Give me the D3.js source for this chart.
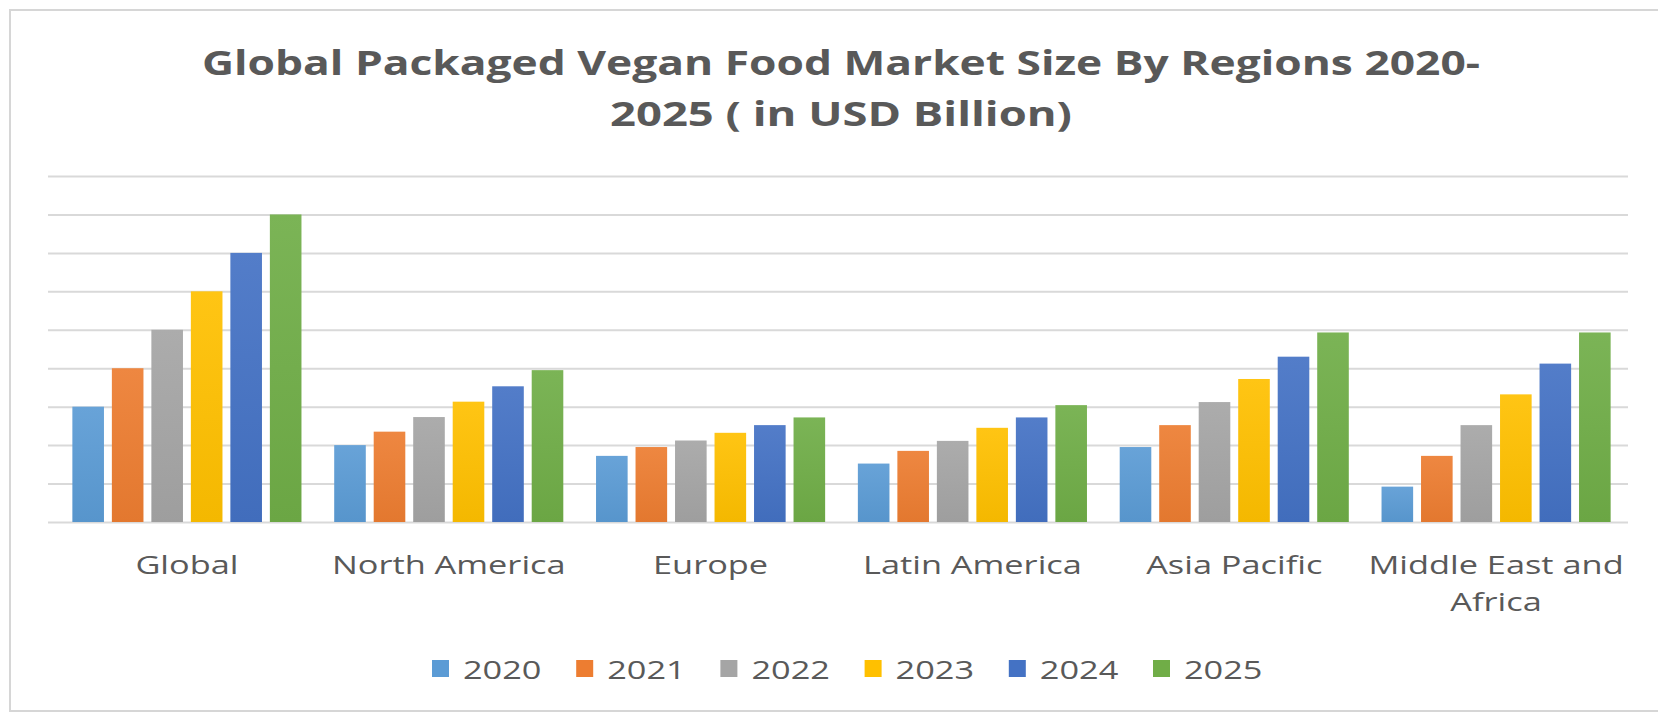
<!DOCTYPE html>
<html>
<head>
<meta charset="utf-8">
<script src="https://cdn.jsdelivr.net/npm/d3@7"></script>
<style>
  html, body { margin: 0; padding: 0; background: #ffffff; }
  svg { display: block; }
</style>
</head>
<body>
<svg id="chart" width="1658" height="715"></svg>
<script>
// Regions along the x axis (second line of a label after "\n")
const regions = ["Global", "North America", "Europe", "Latin America", "Asia Pacific", "Middle East and\nAfrica"];
// Years shown as side-by-side bars in each region
const years = ["2020", "2021", "2022", "2023", "2024", "2025"];
// Market size per region, one array per year (USD Billion)
const v2020 = [3.0, 2.0, 1.72, 1.52, 1.95, 0.92];
const v2021 = [4.0, 2.35, 1.95, 1.85, 2.52, 1.72];
const v2022 = [5.0, 2.73, 2.12, 2.11, 3.12, 2.52];
const v2023 = [6.0, 3.13, 2.32, 2.45, 3.72, 3.32];
const v2024 = [7.0, 3.53, 2.52, 2.72, 4.3, 4.12];
const v2025 = [8.0, 3.95, 2.72, 3.04, 4.93, 4.93];
const seriesValues = [v2020, v2021, v2022, v2023, v2024, v2025];
// Gridline values of the hidden value axis
const gridTicks = [0, 1, 2, 3, 4, 5, 6, 7, 8, 9];
const colors = ["#5B9BD5", "#ED7D31", "#A5A5A5", "#FFC000", "#4472C4", "#70AD47"];

const titleLines = ["Global Packaged Vegan Food Market Size By Regions 2020-", "2025 ( in USD Billion)"];

const svg = d3.select("#chart");
const W = 1658, H = 715;
const textColor = "#595959";
const font = "'Open Sans', 'DejaVu Sans', sans-serif";
const stretch = 1.32; // horizontal widening of axis and legend text

// outer frame
svg.append("rect")
  .attr("x", 10).attr("y", 10)
  .attr("width", W + 20).attr("height", 701)
  .attr("fill", "#ffffff")
  .attr("stroke", "#d6d6d6")
  .attr("stroke-width", 2);

// title
const titleX = 841;
const titleBase = [75, 126];
const titleWidths = [1278, 462];
titleLines.forEach((t, i) => {
  svg.append("text")
    .attr("x", titleX).attr("y", titleBase[i])
    .attr("text-anchor", "middle")
    .attr("font-family", font)
    .attr("font-weight", 700)
    .attr("font-size", 34)
    .attr("fill", textColor)
    .attr("textLength", titleWidths[i])
    .attr("lengthAdjust", "spacingAndGlyphs")
    .text(t);
});

// plot area
const plot = { left: 56, right: 1627, top: 176, bottom: 522 };
const gridLeft = 48, gridRight = 1628;

const y = d3.scaleLinear().domain([0, 9]).range([plot.bottom, plot.top]);
const x0 = d3.scaleBand().domain(regions).range([plot.left, plot.right]).paddingInner(0.125).paddingOuter(0.0625);
const x1 = d3.scaleBand().domain(years).range([0, x0.bandwidth()]).paddingInner(0.2).paddingOuter(0);

// gridlines from a label-less value axis
const yAxis = d3.axisLeft(y).tickValues(gridTicks).tickFormat("").tickSize(-(gridRight - gridLeft)).tickSizeOuter(0);
const gAxis = svg.append("g").attr("transform", `translate(${gridLeft},0)`).call(yAxis);
gAxis.select(".domain").remove();
gAxis.selectAll(".tick line").attr("stroke", "#d9d9d9").attr("stroke-width", 2);

// vertical gradients for bar fills
const defs = svg.append("defs");
colors.forEach((c, i) => {
  const g = defs.append("linearGradient")
    .attr("id", "grad" + i)
    .attr("x1", 0).attr("y1", 0).attr("x2", 0).attr("y2", 1);
  g.append("stop").attr("offset", "0%").attr("stop-color", d3.interpolateRgb(c, "#ffffff")(0.08));
  g.append("stop").attr("offset", "100%").attr("stop-color", d3.color(c).darker(0.12).formatHex());
});

// bars
const groups = svg.append("g").selectAll("g")
  .data(regions)
  .join("g")
  .attr("transform", d => `translate(${x0(d)},0)`);

groups.selectAll("rect")
  .data((d, ri) => years.map((yr, si) => ({ yr, si, v: seriesValues[si][ri] })))
  .join("rect")
  .attr("x", d => x1(d.yr))
  .attr("width", x1.bandwidth())
  .attr("y", d => y(d.v))
  .attr("height", d => y(0) - y(d.v))
  .attr("fill", d => `url(#grad${d.si})`);

// stretched text helper
function widen(sel) {
  sel.each(function () {
    const len = this.getComputedTextLength();
    d3.select(this).attr("textLength", len * stretch).attr("lengthAdjust", "spacingAndGlyphs");
  });
}

// category labels
const labelBase = 574, labelLine = 37;
regions.forEach(r => {
  const lines = r.split("\n");
  lines.forEach((ln, k) => {
    svg.append("text")
      .attr("x", x0(r) + x0.bandwidth() / 2)
      .attr("y", labelBase + k * labelLine)
      .attr("text-anchor", "middle")
      .attr("font-family", font)
      .attr("font-size", 26)
      .attr("fill", textColor)
      .text(ln)
      .call(widen);
  });
});

// legend
const legendX0 = 432, legendStep = 144.2, legendBase = 679, sq = 17;
const legend = svg.append("g");
years.forEach((yr, i) => {
  const lx = legendX0 + i * legendStep;
  legend.append("rect")
    .attr("x", lx).attr("y", legendBase - 19)
    .attr("width", sq).attr("height", sq)
    .attr("fill", colors[i]);
  legend.append("text")
    .attr("x", lx + sq + 14)
    .attr("y", legendBase)
    .attr("font-family", font)
    .attr("font-size", 26)
    .attr("fill", textColor)
    .text(yr)
    .call(widen);
});
</script>
</body>
</html>
